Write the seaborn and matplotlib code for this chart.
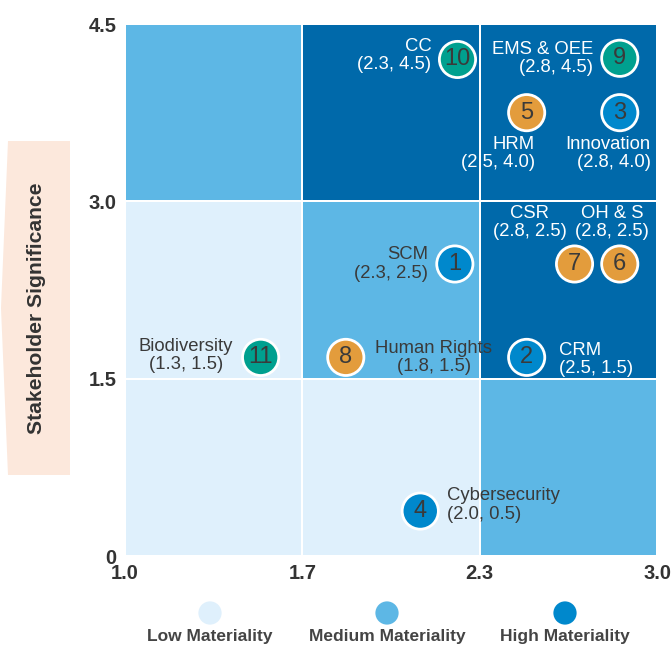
import numpy as np
import pandas as pd
import matplotlib
matplotlib.use("Agg")
import matplotlib.pyplot as plt
import seaborn as sns
from matplotlib.colors import ListedColormap
from matplotlib.patches import Polygon

# topics, numbered 1..11
ids = [1, 2, 3, 4, 5, 6, 7, 8, 9, 10, 11]
names = ["SCM", "CRM", "Innovation", "Cybersecurity", "HRM", "OH & S", "CSR",
         "Human Rights", "EMS & OEE", "CC", "Biodiversity"]
groups = ["blue", "blue", "blue", "blue", "orange", "orange", "orange",
          "orange", "teal", "teal", "teal"]
# values written in the labels
label_x = [2.3, 2.5, 2.8, 2.0, 2.5, 2.8, 2.8, 1.8, 2.8, 2.3, 1.3]
label_y = [2.5, 1.5, 4.0, 0.5, 4.0, 2.5, 2.5, 1.5, 4.5, 4.5, 1.5]
# where the circles sit on the chart
pos_x = [2.24, 2.51, 2.86, 2.11, 2.51, 2.86, 2.69, 1.83, 2.86, 2.25, 1.51]
pos_y = [2.47, 1.68, 3.75, 0.38, 3.75, 2.47, 2.47, 1.68, 4.21, 4.20, 1.68]

# materiality grid (rows bottom -> top), 0 low, 1 medium, 2 high
grid = [[0, 0, 1],
        [0, 1, 2],
        [1, 2, 2]]
x_ticklabels = ["1.0", "1.7", "2.3", "3.0"]
y_ticklabels = ["0", "1.5", "3.0", "4.5"]
levels = ["Low Materiality", "Medium Materiality", "High Materiality"]

cell_colors = ["#DFF0FC", "#5DB7E5", "#0069AA"]
legend_colors = ["#DFF0FC", "#5DB7E5", "#0088CC"]
point_colors = {"blue": "#0088CC", "orange": "#E39C3C", "teal": "#00A08F"}
dark = "#3A3A3A"

# label layout: offset in px, alignment
label_layout = {
    1: (-27, 0, "right", "center"),
    2: (32, -2, "left", "center"),
    3: (31, -23, "right", "top"),
    4: (27, 6, "left", "center"),
    5: (8, -23, "right", "top"),
    6: (-8, 24, "center", "bottom"),
    7: (-45, 24, "center", "bottom"),
    8: (88, 0, "center", "center"),
    9: (-27, 0, "right", "center"),
    10: (-26, 4, "right", "center"),
    11: (-75, 2, "center", "center"),
}

sns.set_theme(style="white")
plt.rcParams["font.family"] = ["Liberation Sans", "DejaVu Sans"]

fig = plt.figure(figsize=(6.71, 6.47), dpi=100)
ax = fig.add_axes([125 / 671, 1 - 556 / 647, 532 / 671, 532 / 647])

x_edges = np.linspace(1.0, 3.0, 4)
y_edges = np.linspace(0.0, 4.5, 4)
ax.pcolormesh(x_edges, y_edges, np.array(grid), cmap=ListedColormap(cell_colors),
              vmin=-0.5, vmax=2.5, edgecolors="white", linewidth=1.1)

df = pd.DataFrame({"id": ids, "name": names, "group": groups,
                   "x": pos_x, "y": pos_y, "lx": label_x, "ly": label_y})
sns.scatterplot(data=df, x="x", y="y", hue="group", palette=point_colors,
                s=680, edgecolor="white", linewidth=2, legend=False, ax=ax, zorder=3)

for _, r in df.iterrows():
    ax.text(r.x, r.y, str(r.id), ha="center", va="center", fontsize=17,
            color=dark, zorder=4)
    col = min(int((r.x - 1.0) / (2.0 / 3)), 2)
    row = min(int(r.y / 1.5), 2)
    tc = "white" if grid[row][col] == 2 else dark
    dx, dy, ha, va = label_layout[r.id]
    ax.annotate(f"{r['name']}\n({r.lx:.1f}, {r.ly:.1f})", (r.x, r.y),
                xytext=(dx * 0.72, dy * 0.72), textcoords="offset points",
                ha=ha, va=va, multialignment=ha if ha != "center" else "center",
                fontsize=13.3, color=tc, linespacing=1.1, zorder=5)

ax.set_xlim(1.0, 3.0)
ax.set_ylim(0.0, 4.5)
ax.set_xticks(x_edges)
ax.set_xticklabels(x_ticklabels)
ax.set_yticks(y_edges)
ax.set_yticklabels(y_ticklabels)
ax.tick_params(length=0, labelsize=14.5, colors="#333333", pad=6)
for lab in ax.get_xticklabels() + ax.get_yticklabels():
    lab.set_fontweight("bold")
ax.set_xlabel("")
ax.set_ylabel("")
sns.despine(ax=ax, left=True, bottom=True)

# y axis title in the peach arrow
pts = [(8, 141), (70, 141), (70, 475), (8, 475), (1, 308)]
fig.patches.append(Polygon([(px / 671, 1 - py / 647) for px, py in pts],
                           closed=True, transform=fig.transFigure,
                           facecolor="#FCE8DC", edgecolor="none"))
fig.text(37 / 671, 1 - 308 / 647, "Stakeholder Significance", rotation=90,
         ha="center", va="center", fontsize=15.2, fontweight="bold", color="#333333")

# legend
lax = fig.add_axes([0, 0, 1, 0.1])
lax.set_xlim(0, 671)
lax.set_ylim(0, 64.7)
lax.axis("off")
leg_df = pd.DataFrame({"level": levels, "x": [210, 387, 565], "y": [34, 34, 34]})
sns.scatterplot(data=leg_df, x="x", y="y", hue="level",
                palette=dict(zip(levels, legend_colors)), s=280,
                edgecolor="none", legend=False, ax=lax)
for lv, lx in zip(levels, leg_df.x):
    lax.text(lx, 10, lv, ha="center", va="center", fontsize=12.5,
             fontweight="bold", color="#444444")
lax.set_xlabel("")
lax.set_ylabel("")

fig.savefig("out.png", dpi=100)
